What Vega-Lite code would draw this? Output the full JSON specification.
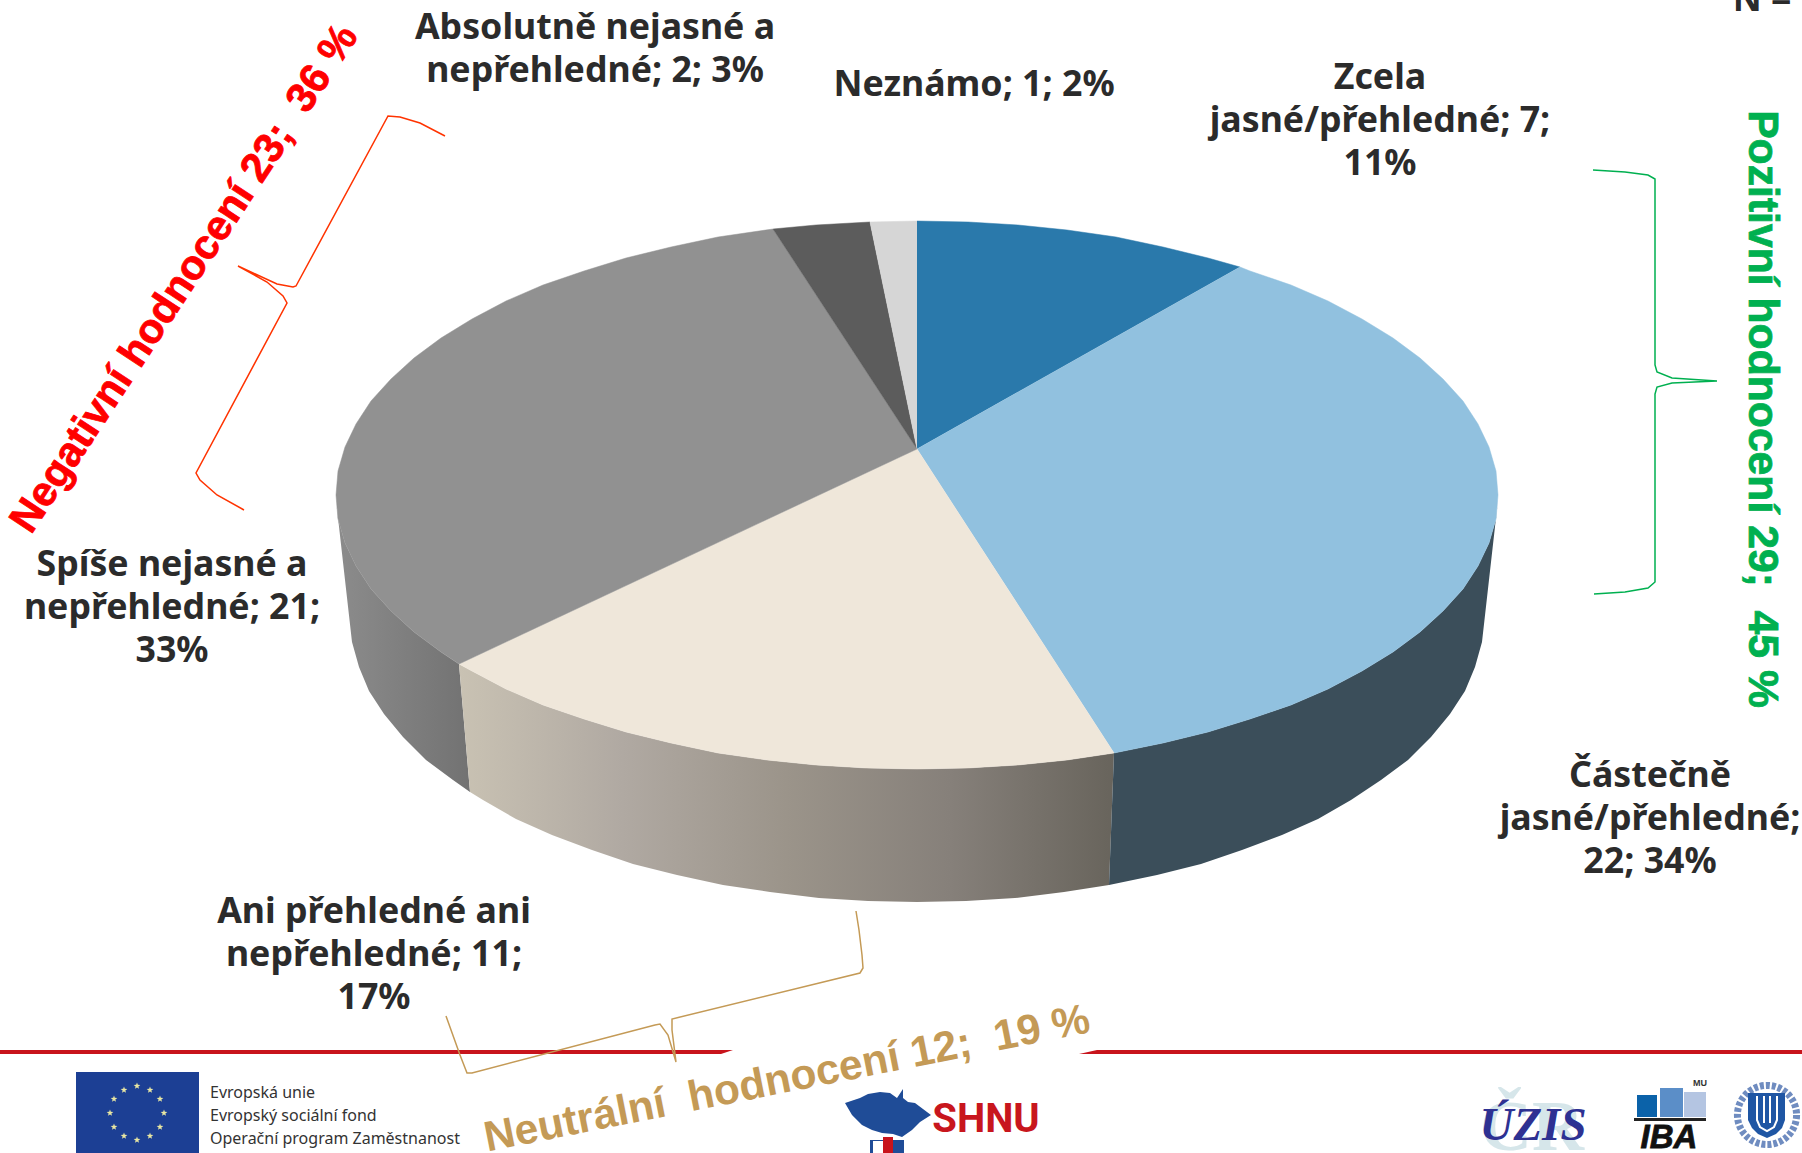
{
"$schema":"https://vega.github.io/schema/vega-lite/v6.json",
"width":1802,"height":1153,"padding":0,"autosize":{"type":"none"},"background":"white",
"config":{"view":{"stroke":null}},
"datasets":{
"sideGray":[{"x":459,"y":664},{"x":441,"y":652},{"x":414,"y":632},{"x":391,"y":611},{"x":371,"y":589},{"x":356,"y":566},{"x":345,"y":543},{"x":338,"y":519},{"x":336,"y":500},{"x":352,"y":642},{"x":359,"y":667},{"x":369,"y":691},{"x":384,"y":714},{"x":403,"y":737},{"x":426,"y":760},{"x":453,"y":780},{"x":470,"y":792}],
"sideCream":[{"x":1114,"y":753},{"x":1067,"y":760},{"x":1018,"y":765},{"x":968,"y":768},{"x":917,"y":769},{"x":866,"y":768},{"x":816,"y":765},{"x":767,"y":760},{"x":718,"y":753},{"x":671,"y":743},{"x":626,"y":732},{"x":584,"y":719},{"x":543,"y":705},{"x":506,"y":689},{"x":472,"y":671},{"x":459,"y":664},{"x":470,"y":792},{"x":483,"y":800},{"x":516,"y":819},{"x":552,"y":835},{"x":592,"y":850},{"x":633,"y":864},{"x":677,"y":875},{"x":723,"y":885},{"x":770,"y":892},{"x":819,"y":898},{"x":868,"y":901},{"x":917,"y":902},{"x":966,"y":901},{"x":1015,"y":898},{"x":1064,"y":892},{"x":1109,"y":885}],
"sideBlue":[{"x":1498,"y":500},{"x":1496,"y":519},{"x":1489,"y":543},{"x":1478,"y":566},{"x":1463,"y":589},{"x":1443,"y":611},{"x":1420,"y":632},{"x":1393,"y":652},{"x":1362,"y":671},{"x":1328,"y":689},{"x":1291,"y":705},{"x":1250,"y":719},{"x":1208,"y":732},{"x":1163,"y":743},{"x":1114,"y":753},{"x":1109,"y":885},{"x":1157,"y":875},{"x":1201,"y":864},{"x":1242,"y":850},{"x":1282,"y":835},{"x":1318,"y":819},{"x":1351,"y":800},{"x":1381,"y":780},{"x":1408,"y":760},{"x":1431,"y":737},{"x":1450,"y":714},{"x":1465,"y":691},{"x":1475,"y":667},{"x":1482,"y":642}],
"topBlue":[{"x":917,"y":449},{"x":917,"y":221},{"x":968,"y":222},{"x":1018,"y":225},{"x":1067,"y":230},{"x":1116,"y":237},{"x":1163,"y":247},{"x":1208,"y":258},{"x":1240,"y":267}],
"topLight":[{"x":917,"y":449},{"x":1240,"y":267},{"x":1250,"y":271},{"x":1291,"y":285},{"x":1328,"y":301},{"x":1362,"y":319},{"x":1393,"y":338},{"x":1420,"y":358},{"x":1443,"y":379},{"x":1463,"y":401},{"x":1478,"y":424},{"x":1489,"y":447},{"x":1496,"y":471},{"x":1498,"y":495},{"x":1496,"y":519},{"x":1489,"y":543},{"x":1478,"y":566},{"x":1463,"y":589},{"x":1443,"y":611},{"x":1420,"y":632},{"x":1393,"y":652},{"x":1362,"y":671},{"x":1328,"y":689},{"x":1291,"y":705},{"x":1250,"y":719},{"x":1208,"y":732},{"x":1163,"y":743},{"x":1114,"y":753}],
"topCream":[{"x":917,"y":449},{"x":1114,"y":753},{"x":1067,"y":760},{"x":1018,"y":765},{"x":968,"y":768},{"x":917,"y":769},{"x":866,"y":768},{"x":816,"y":765},{"x":767,"y":760},{"x":718,"y":753},{"x":671,"y":743},{"x":626,"y":732},{"x":584,"y":719},{"x":543,"y":705},{"x":506,"y":689},{"x":472,"y":671},{"x":459,"y":664}],
"topGray":[{"x":917,"y":449},{"x":459,"y":664},{"x":441,"y":652},{"x":414,"y":632},{"x":391,"y":611},{"x":371,"y":589},{"x":356,"y":566},{"x":345,"y":543},{"x":338,"y":519},{"x":336,"y":495},{"x":338,"y":471},{"x":345,"y":447},{"x":356,"y":424},{"x":371,"y":401},{"x":391,"y":379},{"x":414,"y":358},{"x":441,"y":338},{"x":472,"y":319},{"x":506,"y":301},{"x":543,"y":285},{"x":584,"y":271},{"x":626,"y":258},{"x":671,"y":247},{"x":718,"y":237},{"x":773,"y":229}],
"topDark":[{"x":917,"y":449},{"x":773,"y":229},{"x":816,"y":225},{"x":870,"y":222}],
"topPale":[{"x":917,"y":449},{"x":870,"y":222},{"x":917,"y":221}],
"braceGreen":[{"x":1593,"y":170},{"x":1625,"y":172},{"x":1648,"y":175},{"x":1655,"y":179},{"x":1655,"y":365},{"x":1657,"y":372},{"x":1672,"y":378},{"x":1717,"y":381},{"x":1672,"y":383},{"x":1657,"y":387},{"x":1655,"y":394},{"x":1655,"y":582},{"x":1648,"y":588},{"x":1625,"y":592},{"x":1594,"y":594}],
"braceRed":[{"x":445,"y":136},{"x":420,"y":123},{"x":400,"y":117},{"x":388,"y":116},{"x":296,"y":286},{"x":293,"y":287},{"x":277,"y":284},{"x":238,"y":266},{"x":267,"y":282},{"x":283,"y":296},{"x":287,"y":303},{"x":196,"y":473},{"x":200,"y":480},{"x":217,"y":495},{"x":244,"y":510}],
"braceTan":[{"x":856,"y":911},{"x":859,"y":930},{"x":862,"y":955},{"x":863,"y":968},{"x":860,"y":973},{"x":672,"y":1019},{"x":672,"y":1030},{"x":676,"y":1062},{"x":668,"y":1035},{"x":660,"y":1024},{"x":655,"y":1025},{"x":472,"y":1073},{"x":467,"y":1073},{"x":460,"y":1055},{"x":446,"y":1016}],
"ruleLeft":[{"x":0,"y":1050},{"x":733,"y":1050},{"x":721,"y":1054},{"x":0,"y":1054}],
"ruleRight":[{"x":1097,"y":1050},{"x":1802,"y":1050},{"x":1802,"y":1054},{"x":1079,"y":1054}],
"blocks":[{"name":"flag","x":76,"x2":199,"y":1072,"y2":1153},{"name":"stripeOuter","x":870,"x2":904,"y":1140,"y2":1153},{"name":"stripeWhite","x":873,"x2":883,"y":1141,"y2":1153},{"name":"stripeRed","x":883,"x2":893,"y":1137,"y2":1153},{"name":"ibaA","x":1637,"x2":1657,"y":1095,"y2":1117},{"name":"ibaB","x":1660,"x2":1683,"y":1088,"y2":1117},{"name":"ibaC","x":1684,"x2":1706,"y":1092,"y2":1117},{"name":"ibaBase","x":1634,"x2":1706,"y":1118,"y2":1121}],
"stars":[{"x":137,"y":1086},{"x":150,"y":1090},{"x":160,"y":1099},{"x":164,"y":1113},{"x":160,"y":1127},{"x":150,"y":1136},{"x":137,"y":1140},{"x":124,"y":1136},{"x":114,"y":1127},{"x":110,"y":1113},{"x":114,"y":1099},{"x":124,"y":1090}],
"map":[{"x":845,"y":1103},{"x":860,"y":1098},{"x":868,"y":1094},{"x":880,"y":1092},{"x":890,"y":1093},{"x":897,"y":1098},{"x":903,"y":1089},{"x":903,"y":1098},{"x":908,"y":1102},{"x":915,"y":1103},{"x":923,"y":1109},{"x":931,"y":1115},{"x":920,"y":1122},{"x":912,"y":1130},{"x":902,"y":1137},{"x":893,"y":1134},{"x":882,"y":1133},{"x":872,"y":1130},{"x":862,"y":1125},{"x":852,"y":1115}],
"seal":[{"x":1767,"y":1115}],
"shield":[{"x":1748,"y":1093},{"x":1785,"y":1093},{"x":1785,"y":1120},{"x":1782,"y":1128},{"x":1776,"y":1134},{"x":1767,"y":1138},{"x":1758,"y":1134},{"x":1752,"y":1128},{"x":1748,"y":1120}],
"shieldLines":[{"k":"u","x":1757,"y":1096},{"k":"u","x":1757,"y":1120},{"k":"u","x":1760,"y":1127},{"k":"u","x":1767,"y":1131},{"k":"u","x":1774,"y":1127},{"k":"u","x":1777,"y":1120},{"k":"u","x":1777,"y":1096},{"k":"m1","x":1764,"y":1096},{"k":"m1","x":1764,"y":1123},{"k":"m2","x":1770,"y":1096},{"k":"m2","x":1770,"y":1123}],
"labels":[{"t":"Absolutně nejasné a\nnepřehledné; 2; 3%","x":595,"y":28},{"t":"Neznámo; 1; 2%","x":974,"y":85},{"t":"Zcela\njasné/přehledné; 7;\n11%","x":1380,"y":78},{"t":"Spíše nejasné a\nnepřehledné; 21;\n33%","x":172,"y":565},{"t":"Částečně\njasné/přehledné;\n22; 34%","x":1650,"y":776},{"t":"Ani přehledné ani\nnepřehledné; 11;\n17%","x":374,"y":912},{"t":"N =","x":1762,"y":0}],
"footer":[{"t":"Evropská unie","x":210,"y":1093},{"t":"Evropský sociální fond","x":210,"y":1116},{"t":"Operační program Zaměstnanost","x":210,"y":1139}],
"neg":[{"t":"Negativní hodnocení 23;\u00a0 36 %","x":185,"y":279}],
"pos":[{"t":"Pozitivní hodnocení 29;\u00a0 45 %","x":1762,"y":409}],
"neu":[{"t":"Neutrální\u00a0 hodnocení 12;\u00a0 19 %","x":787,"y":1079}],
"shnu":[{"t":"SHNU","x":986,"y":1132}],
"cr":[{"t":"ČR","x":1532,"y":1150}],
"uzis":[{"t":"ÚZIS","x":1533,"y":1140}],
"iba":[{"t":"IBA","x":1669,"y":1148}],
"mu":[{"t":"MU","x":1700,"y":1086}]
},
"encoding":{
"x":{"field":"x","type":"quantitative","scale":{"domain":[0,1802],"nice":false,"zero":false},"axis":null},
"y":{"field":"y","type":"quantitative","scale":{"domain":[1153,0],"nice":false,"zero":false},"axis":null},
"order":{"value":null}
},
"layer":[
{"data":{"name":"sideGray"},"mark":{"type":"line","filled":true,"strokeWidth":0,"fill":{"gradient":"linear","x1":0,"x2":1,"y1":0,"y2":0,"stops":[{"offset":0,"color":"#8c8c8c"},{"offset":1,"color":"#727272"}]}}},
{"data":{"name":"sideCream"},"mark":{"type":"line","filled":true,"strokeWidth":0,"fill":{"gradient":"linear","x1":0,"x2":1,"y1":0,"y2":0,"stops":[{"offset":0,"color":"#c9c2b3"},{"offset":0.25,"color":"#b0a9a2"},{"offset":0.5,"color":"#9b948a"},{"offset":0.75,"color":"#86807a"},{"offset":1,"color":"#68645c"}]}}},
{"data":{"name":"sideBlue"},"mark":{"type":"line","filled":true,"strokeWidth":0,"fill":"#3b4e5a"}},
{"data":{"name":"topBlue"},"mark":{"type":"line","filled":true,"strokeWidth":0.5,"fill":"#2a79ab","stroke":"#2a79ab"}},
{"data":{"name":"topLight"},"mark":{"type":"line","filled":true,"strokeWidth":0.5,"fill":"#91c1df","stroke":"#91c1df"}},
{"data":{"name":"topCream"},"mark":{"type":"line","filled":true,"strokeWidth":0.5,"fill":"#efe7da","stroke":"#efe7da"}},
{"data":{"name":"topGray"},"mark":{"type":"line","filled":true,"strokeWidth":0.5,"fill":"#919191","stroke":"#919191"}},
{"data":{"name":"topDark"},"mark":{"type":"line","filled":true,"strokeWidth":0.5,"fill":"#5c5c5c","stroke":"#5c5c5c"}},
{"data":{"name":"topPale"},"mark":{"type":"line","filled":true,"strokeWidth":0.5,"fill":"#d6d6d6","stroke":"#d6d6d6"}},
{"data":{"name":"ruleLeft"},"mark":{"type":"line","filled":true,"strokeWidth":0,"fill":"#c8141c"}},
{"data":{"name":"ruleRight"},"mark":{"type":"line","filled":true,"strokeWidth":0,"fill":"#c8141c"}},
{"data":{"name":"braceGreen"},"mark":{"type":"line","stroke":"#00b050","strokeWidth":1.5}},
{"data":{"name":"braceRed"},"mark":{"type":"line","stroke":"#ff3300","strokeWidth":1.5}},
{"data":{"name":"braceTan"},"mark":{"type":"line","stroke":"#c49a56","strokeWidth":1.5}},
{"data":{"name":"blocks"},"mark":{"type":"rect"},"encoding":{"x2":{"field":"x2"},"y2":{"field":"y2"},"color":{"field":"name","type":"nominal","legend":null,"scale":{"domain":["flag","stripeOuter","stripeWhite","stripeRed","ibaA","ibaB","ibaC","ibaBase"],"range":["#1c3f94","#1f4c97","#ffffff","#c8141c","#0b62a9","#5b8ec8","#b4c5e2","#222222"]}}}},
{"data":{"name":"stars"},"mark":{"type":"point","filled":true,"opacity":1,"color":"#e8e6a2","size":50,"shape":"M0,-1L0.24,-0.32L0.95,-0.31L0.38,0.12L0.59,0.81L0,0.4L-0.59,0.81L-0.38,0.12L-0.95,-0.31L-0.24,-0.32Z"}},
{"data":{"name":"map"},"mark":{"type":"line","filled":true,"strokeWidth":0,"fill":"#1f4c97"}},
{"data":{"name":"seal"},"mark":{"type":"point","filled":false,"opacity":1,"shape":"circle","size":3500,"stroke":"#6f8cc0","strokeWidth":7,"strokeDash":[4,2]}},
{"data":{"name":"shield"},"mark":{"type":"line","filled":true,"strokeWidth":0,"fill":"#1f56a4"}},
{"data":{"name":"shieldLines"},"mark":{"type":"line","stroke":"#ffffff","strokeWidth":2},"encoding":{"detail":{"field":"k"}}},
{"data":{"name":"cr"},"mark":{"type":"text","font":"Liberation Serif","fontWeight":"bold","fontSize":72,"color":"#d6e6ea","align":"center","baseline":"alphabetic"},"encoding":{"text":{"field":"t"}}},
{"data":{"name":"uzis"},"mark":{"type":"text","font":"Liberation Serif","fontWeight":"bold","fontStyle":"italic","fontSize":47,"color":"#2e3192","align":"center","baseline":"alphabetic"},"encoding":{"text":{"field":"t"}}},
{"data":{"name":"iba"},"mark":{"type":"text","font":"Liberation Sans","fontWeight":"bold","fontStyle":"italic","fontSize":33,"color":"#111111","stroke":"#111111","strokeWidth":0.8,"align":"center","baseline":"alphabetic"},"encoding":{"text":{"field":"t"}}},
{"data":{"name":"mu"},"mark":{"type":"text","font":"Liberation Sans","fontWeight":"bold","fontSize":9,"color":"#333333","align":"center","baseline":"alphabetic"},"encoding":{"text":{"field":"t"}}},
{"data":{"name":"shnu"},"mark":{"type":"text","font":"Roboto","fontWeight":"bold","fontSize":40,"color":"#c8161d","align":"center","baseline":"alphabetic"},"encoding":{"text":{"field":"t"}}},
{"data":{"name":"footer"},"mark":{"type":"text","font":"Noto Sans","fontSize":16,"color":"#333333","align":"left","baseline":"middle"},"encoding":{"text":{"field":"t"}}},
{"data":{"name":"labels"},"mark":{"type":"text","font":"Noto Sans","fontWeight":"bold","fontSize":35.7,"lineHeight":43,"lineBreak":"\n","color":"#2b2b2b","align":"center","baseline":"middle"},"encoding":{"text":{"field":"t"}}},
{"data":{"name":"neg"},"mark":{"type":"text","font":"Liberation Sans","fontWeight":"bold","fontSize":41.5,"angle":303.3,"color":"#ff0000","stroke":"#ff0000","strokeWidth":0.8,"align":"center","baseline":"middle"},"encoding":{"text":{"field":"t"}}},
{"data":{"name":"pos"},"mark":{"type":"text","font":"Liberation Sans","fontWeight":"bold","fontSize":42.7,"angle":90,"color":"#00b050","stroke":"#00b050","strokeWidth":0.8,"align":"center","baseline":"middle"},"encoding":{"text":{"field":"t"}}},
{"data":{"name":"neu"},"mark":{"type":"text","font":"Liberation Sans","fontWeight":"bold","fontSize":42.5,"angle":348.8,"color":"#c49a56","align":"center","baseline":"middle"},"encoding":{"text":{"field":"t"}}}
]
}
